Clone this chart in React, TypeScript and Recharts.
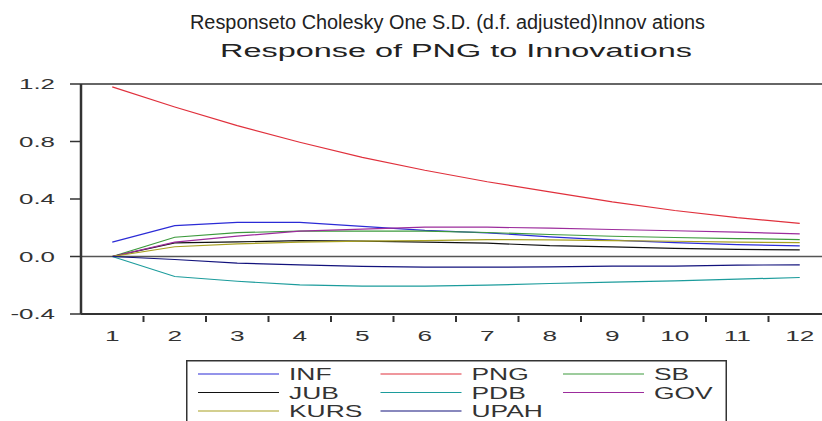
import React from "react";
import { LineChart, Line, XAxis, YAxis, ReferenceLine, Legend } from "recharts";

// periods 1..12, response of PNG to one S.D. shocks
const periods = [1, 2, 3, 4, 5, 6, 7, 8, 9, 10, 11, 12];
const inf = [0.1, 0.215, 0.238, 0.238, 0.21, 0.182, 0.165, 0.137, 0.114, 0.097, 0.082, 0.074];
const png = [1.18, 1.04, 0.91, 0.795, 0.69, 0.6, 0.52, 0.45, 0.38, 0.32, 0.27, 0.23];
const sb = [0, 0.134, 0.166, 0.176, 0.177, 0.176, 0.167, 0.153, 0.141, 0.132, 0.125, 0.118];
const jub = [0, 0.095, 0.102, 0.11, 0.107, 0.1, 0.093, 0.075, 0.067, 0.056, 0.049, 0.046];
const pdb = [0, -0.139, -0.172, -0.198, -0.206, -0.206, -0.199, -0.188, -0.178, -0.169, -0.158, -0.146];
const gov = [0, 0.1, 0.142, 0.176, 0.19, 0.204, 0.204, 0.197, 0.188, 0.179, 0.169, 0.158];
const kurs = [0, 0.068, 0.088, 0.1, 0.107, 0.111, 0.118, 0.116, 0.111, 0.106, 0.1, 0.097];
const upah = [0, -0.021, -0.046, -0.058, -0.069, -0.074, -0.074, -0.072, -0.067, -0.067, -0.06, -0.058];

const yTicks = [-0.4, 0, 0.4, 0.8, 1.2];
// labels sit on the periods, tick marks between them (EViews style)
const xTicks = [1, 1.5, 2, 2.5, 3, 3.5, 4, 4.5, 5, 5.5, 6, 6.5, 7, 7.5, 8, 8.5, 9, 9.5, 10, 10.5, 11, 11.5, 12];

const series = [
  { key: "INF", values: inf, color: "#2b2bd6" },
  { key: "PNG", values: png, color: "#e0303c" },
  { key: "SB", values: sb, color: "#3c9a3c" },
  { key: "JUB", values: jub, color: "#111111" },
  { key: "PDB", values: pdb, color: "#1c9c9c" },
  { key: "GOV", values: gov, color: "#9c2c9c" },
  { key: "KURS", values: kurs, color: "#a8a020" },
  { key: "UPAH", values: upah, color: "#12127c" },
];
const seriesOrder = series.map((s) => s.key);

const data = periods.map((p, i) => {
  const row: any = { period: p };
  series.forEach((s) => (row[s.key] = s.values[i]));
  return row;
});

const FONT = "Arial, 'Liberation Sans', sans-serif";

const XTick = (props: any) => {
  const { x, y, payload } = props;
  const v = payload.value;
  if (!Number.isInteger(v)) {
    return <line x1={x} x2={x} y1={y} y2={y + 6} stroke="#333" strokeWidth={2} />;
  }
  return (
    <text
      transform={`translate(${x},${y + 24.5}) scale(1.75,1)`}
      textAnchor="middle"
      fontSize={15}
      fontFamily={FONT}
      fill="#333"
    >
      {v}
    </text>
  );
};

const YTick = (props: any) => {
  const { x, y, payload } = props;
  return (
    <text
      transform={`translate(${x - 13},${y + 5}) scale(1.85,1)`}
      textAnchor="end"
      fontSize={14}
      fontFamily={FONT}
      fill="#333"
    >
      {payload.value.toFixed(1)}
    </text>
  );
};

const LegendBox = (props: any) => {
  // keep the series order (3 per row), not the alphabetical one
  const items = [...(props.payload || [])].sort(
    (a: any, b: any) => seriesOrder.indexOf(a.value) - seriesOrder.indexOf(b.value)
  );
  return (
    <svg width={541} height={75} style={{ display: "block" }}>
      <rect x={0.75} y={0.75} width={539.5} height={90} fill="#fff" stroke="#333" strokeWidth={1.5} />
      {items.map((it: any, i: number) => {
        const col = i % 3;
        const row = Math.floor(i / 3);
        const x0 = 12 + col * 182.5;
        const y0 = 14 + row * 18.5;
        return (
          <g key={it.value}>
            <line x1={x0} x2={x0 + 81} y1={y0} y2={y0} stroke={it.color} strokeWidth={1.2} />
            <text
              transform={`translate(${x0 + 91},${y0 + 6}) scale(1.6,1)`}
              fontSize={16.5}
              fontFamily={FONT}
              fill="#333"
            >
              {it.value}
            </text>
          </g>
        );
      })}
    </svg>
  );
};

export default function App() {
  return (
    <div
      style={{
        position: "absolute",
        left: 0,
        top: 0,
        width: 822,
        height: 421,
        overflow: "hidden",
        background: "#fff",
      }}
    >
      <svg width={822} height={80} style={{ position: "absolute", left: 0, top: 0 }}>
        <text
          x={190}
          y={29}
          textLength={515}
          lengthAdjust="spacingAndGlyphs"
          fontSize={20}
          fontFamily={FONT}
          fill="#222"
        >
          Responseto Cholesky One S.D. (d.f. adjusted)Innov ations
        </text>
        <text
          x={220}
          y={57}
          textLength={472}
          lengthAdjust="spacingAndGlyphs"
          fontSize={18}
          fontFamily={FONT}
          fill="#222"
        >
          Response of PNG to Innovations
        </text>
      </svg>
      <div style={{ position: "absolute", left: 0, top: 0 }}>
        <LineChart
          width={840}
          height={421}
          data={data}
          margin={{ top: 84, right: 9, bottom: 77, left: 21 }}
        >
          <XAxis
            dataKey="period"
            type="number"
            domain={[0.5, 12.5]}
            ticks={xTicks}
            interval={0}
            allowDataOverflow
            height={30}
            tickSize={0}
            tickLine={false}
            tick={<XTick />}
            axisLine={{ stroke: "#333", strokeWidth: 2 }}
          />
          <YAxis
            type="number"
            domain={[-0.4, 1.2]}
            ticks={yTicks}
            interval={0}
            allowDataOverflow
            width={60}
            tickSize={11}
            tickLine={{ stroke: "#333", strokeWidth: 1.5 }}
            tick={<YTick />}
            axisLine={{ stroke: "#333", strokeWidth: 2.5 }}
          />
          <ReferenceLine y={1.2} stroke="#666" strokeWidth={2} />
          <ReferenceLine y={0} stroke="#555" strokeWidth={1.5} />
          {series.map((s) => (
            <Line
              key={s.key}
              dataKey={s.key}
              name={s.key}
              type="linear"
              stroke={s.color}
              strokeWidth={1.2}
              dot={false}
              isAnimationActive={false}
            />
          ))}
          <Legend
            layout="vertical"
            verticalAlign="middle"
            align="center"
            content={<LegendBox />}
            wrapperStyle={{ left: 186, top: 360, width: 541, height: 75 }}
          />
        </LineChart>
      </div>
    </div>
  );
}
